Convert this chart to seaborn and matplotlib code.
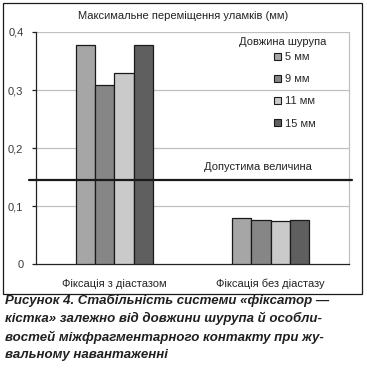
import matplotlib

matplotlib.use("Agg")
import matplotlib.pyplot as plt
import pandas as pd
import seaborn as sns
from matplotlib.patches import Rectangle

categories = ["Фіксація з діастазом", "Фіксація без діастазу"]
screw_lengths = ["5 мм", "9 мм", "11 мм", "15 мм"]
values_5 = [0.377, 0.079]
values_9 = [0.309, 0.077]
values_11 = [0.330, 0.074]
values_15 = [0.377, 0.077]
y_ticks = [0, 0.1, 0.2, 0.3, 0.4]
y_tick_labels = ["0", "0,1", "0,2", "0,3", "0,4"]
allowed_value = 0.145

chart_title = "Максимальне переміщення уламків (мм)"
legend_title = "Довжина шурупа"
allowed_label = "Допустима величина"
caption_lines = [
    "Рисунок 4. Стабільність системи «фіксатор —",
    "кістка» залежно від довжини шурупа й особли-",
    "востей міжфрагментарного контакту при жу-",
    "вальному навантаженні",
]

palette = {"5 мм": "#a6a6a6", "9 мм": "#868686", "11 мм": "#cacaca", "15 мм": "#5f5f5f"}

rows = []
for length, vals in zip(screw_lengths, [values_5, values_9, values_11, values_15]):
    for cat, v in zip(categories, vals):
        rows.append({"category": cat, "length": length, "value": v})
data = pd.DataFrame(rows)

sns.set_style("white")
chart_font = ["Liberation Sans Narrow", "Liberation Sans", "DejaVu Sans"]
plt.rcParams["font.family"] = chart_font
fs = 8

fig = plt.figure(figsize=(3.67, 3.74), dpi=100)
ax = fig.add_axes([36 / 367, 1 - 264.3 / 374, 313 / 367, 232.3 / 374])

sns.barplot(
    data=data,
    x="category",
    y="value",
    hue="length",
    order=categories,
    hue_order=screw_lengths,
    palette=palette,
    width=0.495,
    gap=0,
    edgecolor="#1a1a1a",
    linewidth=0.9,
    saturation=1,
    ax=ax,
    zorder=3,
)

ax.set_xlim(-0.5, 1.5)
ax.set_ylim(0, 0.4)
ax.set_yticks(y_ticks)
ax.set_yticklabels(y_tick_labels)
for y in y_ticks[1:]:
    ax.axhline(y, color="#c0c0c0", linewidth=0.9, zorder=1)
ax.set_xlabel("")
ax.set_ylabel("")

ax.spines["top"].set_visible(False)
ax.spines["right"].set_color("#c0c0c0")
ax.spines["right"].set_linewidth(0.9)
for side in ["left", "bottom"]:
    ax.spines[side].set_color("#222222")
    ax.spines[side].set_linewidth(0.9)

ax.tick_params(axis="y", which="major", left=True, length=3, width=0.9,
               color="#222222", labelsize=fs, labelcolor="#3a3a3a", pad=6)
ax.tick_params(axis="x", which="major", bottom=False, labelsize=fs,
               labelcolor="#222222", pad=7)

ax.plot([-0.023, 1.01], [allowed_value, allowed_value], color="#1a1a1a",
        linewidth=1.6, transform=ax.get_yaxis_transform(), clip_on=False, zorder=5)
ax.text(258 / 367, 1 - 167 / 374, allowed_label, transform=fig.transFigure,
        ha="center", va="center", fontsize=fs, color="#222222")
fig.text(183 / 367, 1 - 16 / 374, chart_title, ha="center", va="center",
         fontsize=fs, color="#222222")

ax.legend_.remove()
handles = [Rectangle((0, 0), 1, 1, facecolor=palette[k], edgecolor="#1a1a1a",
                     linewidth=0.8) for k in screw_lengths]
fig.legend(handles, screw_lengths, loc="upper left",
           bbox_to_anchor=(274 / 367, 1 - 52 / 374), frameon=False,
           fontsize=fs, handlelength=0.6, handleheight=0.6,
           handletextpad=0.35, labelspacing=1.1, borderpad=0, borderaxespad=0)
fig.text(283 / 367, 1 - 42 / 374, legend_title, ha="center", va="center",
         fontsize=fs, color="#222222")

fig.patches.append(Rectangle((3 / 367, 1 - 294 / 374), 359 / 367, 291 / 374,
                             transform=fig.transFigure, fill=False,
                             edgecolor="#1a1a1a", linewidth=0.9))

caption_y = [300, 318.5, 337, 355]
for line, ypix in zip(caption_lines, caption_y):
    fig.text(5 / 367, 1 - ypix / 374, line, ha="left", va="center",
             fontsize=9.5, fontweight="bold", fontstyle="italic",
             color="#231f20", family=["Liberation Sans", "DejaVu Sans"])

fig.savefig("out.png", dpi=100)
plt.close(fig)
